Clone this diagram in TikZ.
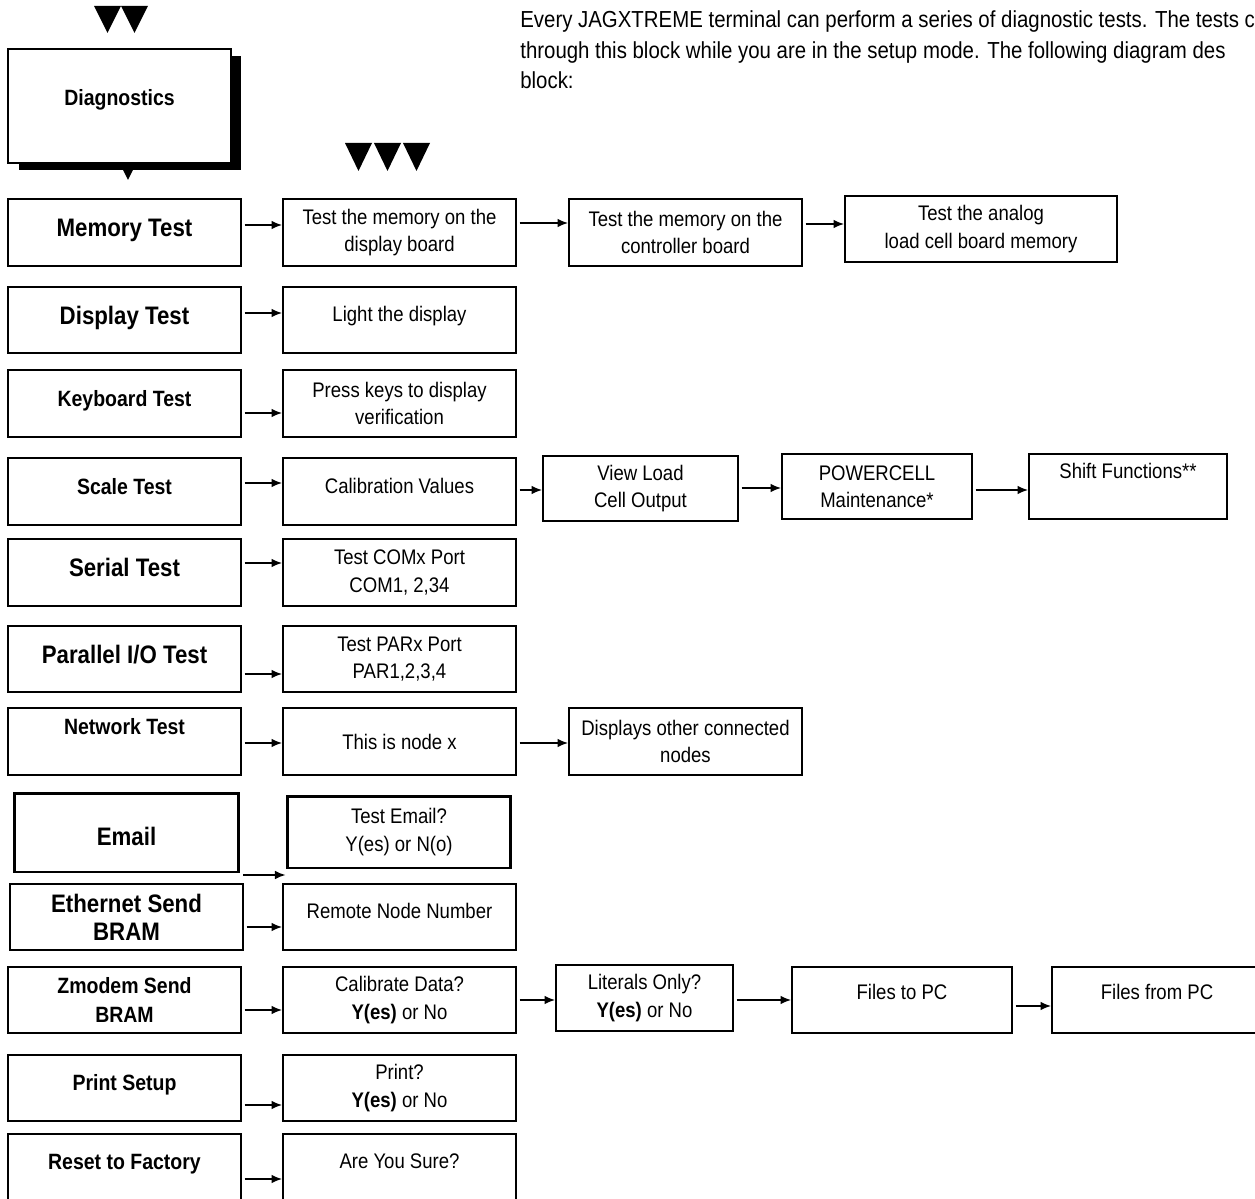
\documentclass[tikz,border=0pt]{standalone}
\usepackage{fontspec}
\setmainfont{Liberation Sans}[FakeStretch=0.88]
\usetikzlibrary{calc,arrows.meta}

\begin{document}
\begin{tikzpicture}[x=0.02cm,y=-0.02cm,every node/.style={inner sep=0pt}]

\tikzstyle{box}=[draw,line width=1.1pt,align=center,fill=white]
\tikzstyle{lbox}=[box,minimum width=4.66cm,minimum height=1.33cm]
\tikzstyle{big}=[font=\bfseries\fontsize{14.4}{16}\selectfont]
\tikzstyle{small}=[font=\bfseries\fontsize{12.6}{16}\selectfont]
\tikzstyle{txt}=[font=\fontsize{12}{15.5}\selectfont]
\tikzstyle{one}=[text height=8.6pt,text depth=6.8pt]
\tikzstyle{oneb}=[text height=10.4pt,text depth=5.6pt]
\tikzstyle{ones}=[text height=9.1pt,text depth=6pt]
\tikzstyle{arr}=[-{Latex[length=6pt,width=5pt]},line width=1pt,shorten <=1.5pt]

\useasboundingbox (0,0) rectangle (1255,1199);
\clip (0,0) rectangle (1255,1199);

% header
\foreach \x in {94,121} \fill (\x,6) -- ++(27,0) -- ++(-13.5,27) -- cycle;
\foreach \x in {345,374,403} \fill (\x,143) -- ++(27,0) -- ++(-13.5,28) -- cycle;
\fill (19,56) rectangle (241,170);
\node[box,small,ones,text depth=10pt,minimum width=4.46cm,minimum height=2.28cm] (diag) at (119.5,106) {Diagnostics};
\fill (123,170) -- (133,170) -- (128,180) -- cycle;
\node[anchor=north west,align=left,font=\fontsize{13.2}{17.6}\selectfont] (intro) at (520,10) {Every JAGXTREME terminal can perform a series of diagnostic tests. The tests c\\through this block while you are in the setup mode. The following diagram des\\block:};

% memory
\node[lbox,big,oneb] (mem) at (124.5,232.5) {Memory Test};
\node[lbox,txt] (memA) at (399.5,232.5) {Test the memory on the\\display board};
\node[lbox,txt] (memB) at (685.5,232.5) {Test the memory on the\\controller board};
\node[box,txt,minimum width=5.44cm,minimum height=1.32cm] (memC) at (981,229) {Test the analog\\load cell board memory};
\draw[arr] (mem.east |- 0,225) -- (memA.west |- 0,225);
\draw[arr] (memA.east |- 0,223) -- (memB.west |- 0,223);
\draw[arr] (memB.east |- 0,224) -- (memC.west |- 0,224);

% display
\node[lbox,big,oneb] (disp) at (124.5,320) {Display Test};
\node[lbox,txt,one] (dispA) at (399.5,320) {Light the display};
\draw[arr] (disp.east |- 0,313) -- (dispA.west |- 0,313);

% keyboard
\node[lbox,small,ones] (key) at (124.5,403.5) {Keyboard Test};
\node[lbox,txt] (keyA) at (399.5,403.5) {Press keys to display\\verification};
\draw[arr] (key.east |- 0,413) -- (keyA.west |- 0,413);

% scale
\node[lbox,small,ones] (scl) at (124.5,491.5) {Scale Test};
\node[lbox,txt,one] (sclA) at (399.5,491.5) {Calibration Values};
\node[box,txt,minimum width=3.9cm,minimum height=1.3cm] (sclB) at (640.5,488.5) {View Load\\Cell Output};
\node[box,txt,minimum width=3.8cm,minimum height=1.3cm] (sclC) at (877,486.5) {POWERCELL\\Maintenance*};
\node[box,txt,one,text depth=18pt,minimum width=3.96cm,minimum height=1.3cm] (sclD) at (1128,486.5) {Shift Functions**};
\draw[arr] (scl.east |- 0,483) -- (sclA.west |- 0,483);
\draw[arr] (sclA.east |- 0,490) -- (sclB.west |- 0,490);
\draw[arr] (sclB.east |- 0,488) -- (sclC.west |- 0,488);
\draw[arr] (sclC.east |- 0,490) -- (sclD.west |- 0,490);

% serial
\node[lbox,big,oneb] (ser) at (124.5,572.5) {Serial Test};
\node[lbox,txt] (serA) at (399.5,572.5) {Test COMx Port\\COM1, 2,34};
\draw[arr] (ser.east |- 0,563) -- (serA.west |- 0,563);

% parallel
\node[lbox,big,oneb] (par) at (124.5,659) {Parallel I/O Test};
\node[lbox,txt] (parA) at (399.5,659) {Test PARx Port\\PAR1,2,3,4};
\draw[arr] (par.east |- 0,674) -- (parA.west |- 0,674);

% network
\node[lbox,small,ones,text depth=17pt] (net) at (124.5,741.5) {Network Test};
\node[lbox,txt,one,text depth=0pt] (netA) at (399.5,741.5) {This is node x};
\node[lbox,txt] (netB) at (685.5,741.5) {Displays other connected\\nodes};
\draw[arr] (net.east |- 0,743) -- (netA.west |- 0,743);
\draw[arr] (netA.east |- 0,743) -- (netB.west |- 0,743);

% email
\node[box,big,text height=15pt,text depth=0pt,line width=1.7pt,minimum width=4.5cm,minimum height=1.58cm] (mail) at (126.5,832.5) {Email};
\node[box,txt,line width=1.7pt,minimum width=4.48cm,minimum height=1.44cm] (mailA) at (399,832) {Test Email?\\Y(es) or N(o)};
\draw[arr] (mail.east |- 0,875) -- (mailA.west |- 0,875);

% ethernet
\node[lbox,big] (eth) at (126.5,917) {Ethernet Send\\BRAM};
\node[lbox,txt,one] (ethA) at (399.5,917) {Remote Node Number};
\draw[arr] (eth.east |- 0,927) -- (ethA.west |- 0,927);

% zmodem
\node[lbox,small] (zmo) at (124.5,1000) {Zmodem Send\\BRAM};
\node[lbox,txt] (zmoA) at (399.5,1000) {Calibrate Data?\\\textbf{Y(es)} or No};
\node[box,txt,minimum width=3.54cm,minimum height=1.32cm] (zmoB) at (644.5,998) {Literals Only?\\\textbf{Y(es)} or No};
\node[box,txt,one,text depth=9pt,minimum width=4.4cm,minimum height=1.32cm] (zmoC) at (902,1000) {Files to PC};
\node[box,txt,one,text depth=9pt,minimum width=4.2cm,minimum height=1.32cm] (zmoD) at (1157,1000) {Files from PC};
\draw[arr] (zmo.east |- 0,1010) -- (zmoA.west |- 0,1010);
\draw[arr] (zmoA.east |- 0,1000) -- (zmoB.west |- 0,1000);
\draw[arr] (zmoB.east |- 0,1000) -- (zmoC.west |- 0,1000);
\draw[arr] (zmoC.east |- 0,1006) -- (zmoD.west |- 0,1006);

% print
\node[lbox,small,ones] (prn) at (124.5,1088) {Print Setup};
\node[lbox,txt] (prnA) at (399.5,1088) {Print?\\\textbf{Y(es)} or No};
\draw[arr] (prn.east |- 0,1105) -- (prnA.west |- 0,1105);

% reset
\node[lbox,small,ones] (rst) at (124.5,1167) {Reset to Factory};
\node[lbox,txt,one] (rstA) at (399.5,1167) {Are You Sure?};
\draw[arr] (rst.east |- 0,1179) -- (rstA.west |- 0,1179);

\end{tikzpicture}
\end{document}
